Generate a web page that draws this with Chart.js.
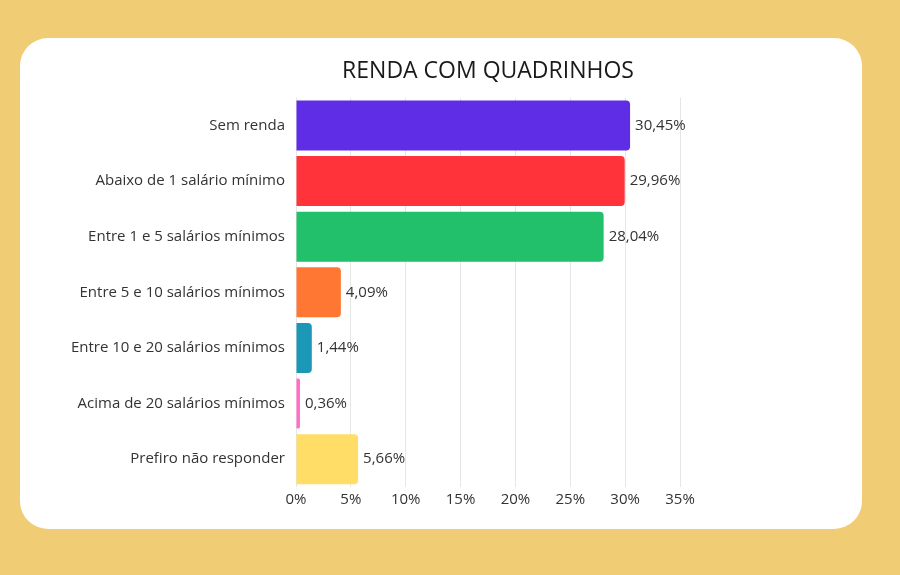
<!DOCTYPE html>
<html lang="pt-BR">
<head>
<meta charset="utf-8">
<title>Renda com quadrinhos</title>
<script src="https://cdn.jsdelivr.net/npm/chart.js@4.4.1/dist/chart.umd.min.js"></script>
<style>
    html, body { margin: 0; padding: 0; }
    body {
        width: 900px;
        height: 575px;
        background: #f0cd75;
        position: relative;
        overflow: hidden;
    }
    .card {
        position: absolute;
        left: 20px;
        top: 38px;
        width: 842px;
        height: 491px;
        background: #ffffff;
        border-radius: 28px;
    }
    .card canvas { display: block; }
</style>
</head>
<body>
<div class="card">
    <canvas id="rendaChart" width="842" height="491"></canvas>
</div>

<script>
// -------------------------------
// DATA
// -------------------------------
const categories = [
    "Sem renda",
    "Abaixo de 1 salário mínimo",
    "Entre 1 e 5 salários mínimos",
    "Entre 5 e 10 salários mínimos",
    "Entre 10 e 20 salários mínimos",
    "Acima de 20 salários mínimos",
    "Prefiro não responder"
];
const percentages = [30.45, 29.96, 28.04, 4.09, 1.44, 0.36, 5.66];
const barColors = ["#5f2de6", "#ff3339", "#22c06a", "#ff7733", "#1a98b5", "#ff6ec4", "#ffdd66"];
const xTicks = [0, 5, 10, 15, 20, 25, 30, 35];

const textColor = "#333333";
const fontFamily = "'Open Sans', 'Noto Sans', sans-serif";

// -------------------------------
// VALUE LABELS AT BAR ENDS
// -------------------------------
const barValueLabels = {
    id: "barValueLabels",
    afterDatasetsDraw(chart) {
        const c = chart.ctx;
        const meta = chart.getDatasetMeta(0);
        c.save();
        c.font = "15px " + fontFamily;
        c.fillStyle = textColor;
        c.textAlign = "left";
        c.textBaseline = "middle";
        meta.data.forEach((bar, i) => {
            const txt = percentages[i].toFixed(2).replace(".", ",") + "%";
            c.fillText(txt, bar.x + 5, bar.y);
        });
        c.restore();
    }
};

// -------------------------------
// CHART
// -------------------------------
const ctx = document.getElementById("rendaChart").getContext("2d");

new Chart(ctx, {
    type: "bar",
    data: {
        labels: categories,
        datasets: [{
            data: percentages,
            backgroundColor: barColors,
            borderWidth: 0,
            borderRadius: 4,
            borderSkipped: "start",
            barPercentage: 0.9,
            categoryPercentage: 1.0
        }]
    },
    options: {
        indexAxis: "y",
        responsive: false,
        animation: false,
        layout: {
            padding: { left: 0, right: 182, top: 0, bottom: 16 }
        },
        scales: {
            x: {
                min: 0,
                max: 35,
                afterBuildTicks: axis => { axis.ticks = xTicks.map(v => ({ value: v })); },
                ticks: {
                    color: textColor,
                    padding: 4,
                    font: { family: fontFamily, size: 15 },
                    callback: v => v + "%"
                },
                grid: { color: "#e6e6e6", lineWidth: 1, drawTicks: false },
                border: { display: false }
            },
            y: {
                afterFit: axis => { axis.width = 276; },
                ticks: {
                    color: textColor,
                    padding: 11,
                    font: { family: fontFamily, size: 15 }
                },
                grid: { display: false, drawTicks: false },
                border: { display: false }
            }
        },
        plugins: {
            legend: { display: false },
            tooltip: { enabled: false },
            title: {
                display: true,
                text: "RENDA COM QUADRINHOS",
                fullSize: false,
                color: "#1a1a1a",
                font: { family: fontFamily, size: 23, weight: "normal" },
                padding: { top: 20, bottom: 12 }
            }
        }
    },
    plugins: [barValueLabels]
});
</script>
</body>
</html>
